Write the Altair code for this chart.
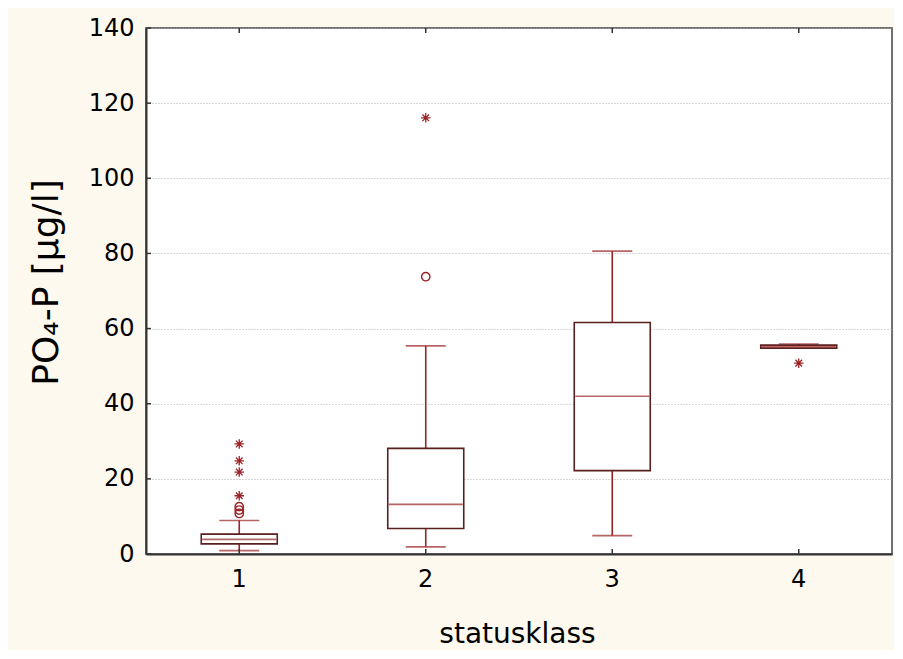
import altair as alt
import pandas as pd

# ---- data ----
categories = ["1", "2", "3", "4"]
whisk_lo = [0.9, 1.9, 4.9, 54.8]
q1 = [2.7, 6.8, 22.2, 54.8]
median = [3.9, 13.2, 42.0, 55.2]
q3 = [5.3, 28.1, 61.6, 55.6]
whisk_hi = [8.9, 55.4, 80.6, 55.9]

circle_cat = ["1", "1", "1", "2"]
circle_val = [12.6, 11.7, 10.8, 73.8]

star_cat = ["1", "1", "1", "1", "2", "4"]
star_val = [29.3, 24.8, 21.8, 15.5, 116.1, 50.8]

y_ticks = [0, 20, 40, 60, 80, 100, 120, 140]

box_df = pd.DataFrame({"cat": categories, "lo": whisk_lo, "q1": q1,
                       "med": median, "q3": q3, "hi": whisk_hi})
circ_df = pd.DataFrame({"cat": circle_cat, "v": circle_val})
star_df = pd.DataFrame({"cat": star_cat, "v": star_val})
ytick_df = pd.DataFrame({"v": y_ticks})
xtick_df = pd.DataFrame({"cat": categories})

BOX = "#5a1f1f"
WHISK = "#9a2428"
OUT = "#9a2428"
FONT = "DejaVu Sans"

xs = alt.Scale(domain=categories, paddingInner=0, paddingOuter=0)
ys = alt.Scale(domain=[0, 140], nice=False)

x_axis = alt.Axis(labelAngle=0, labelFontSize=24, labelPadding=13, ticks=False,
                  domainColor="#333333", domainWidth=2, grid=False,
                  titleFontSize=28, titleFontWeight="normal",
                  titleX=371, titleY=88, titleBaseline="alphabetic",
                  titleAlign="center")
y_axis = alt.Axis(values=y_ticks, labelFontSize=24, labelPadding=12, ticks=False,
                  domainColor="#333333", domainWidth=2,
                  grid=True, gridColor="#b0b0b0", gridDash=[1, 2], gridWidth=1,
                  titleFontSize=36, titleFontWeight="normal", titleAngle=-90,
                  titleX=-89, titleY=254, titleBaseline="alphabetic",
                  titleAlign="center")
X_TITLE = "statusklass"
Y_TITLE = "PO₄-P [µg/l]"


def X():
    return alt.X("cat:N", scale=xs, axis=x_axis, title=X_TITLE)


def Y(field):
    return alt.Y(field, scale=ys, axis=y_axis, title=Y_TITLE)


base = alt.Chart(box_df)

boxes = base.mark_bar(size=76, fill="white", stroke=BOX, strokeWidth=1.6).encode(
    x=X(), y=Y("q1:Q"), y2="q3:Q")

wl = base.mark_rule(color=WHISK, strokeWidth=1.6).encode(x=X(), y=Y("lo:Q"), y2="q1:Q")
wh = base.mark_rule(color=WHISK, strokeWidth=1.6).encode(x=X(), y=Y("q3:Q"), y2="hi:Q")
cap_lo = base.mark_tick(size=40, thickness=1.6, color=WHISK).encode(x=X(), y=Y("lo:Q"))
cap_hi = base.mark_tick(size=40, thickness=1.6, color=WHISK).encode(x=X(), y=Y("hi:Q"))
med = base.mark_tick(size=74, thickness=1.6, color=WHISK).encode(x=X(), y=Y("med:Q"))

circles = alt.Chart(circ_df).mark_point(shape="circle", size=70, filled=False,
                                        color=OUT, strokeWidth=1.4, opacity=1).encode(
    x=X(), y=Y("v:Q"))

star_path = "M-1,0L1,0M0,-1L0,1M-0.7,-0.7L0.7,0.7M-0.7,0.7L0.7,-0.7"
stars = alt.Chart(star_df).mark_point(shape=star_path, size=90, filled=False,
                                      color=OUT, strokeWidth=1.3, opacity=1).encode(
    x=X(), y=Y("v:Q"))

yt = alt.Chart(ytick_df).mark_rule(color="#333333", strokeWidth=1.5).encode(
    y=Y("v:Q"), x=alt.value(0), x2=alt.value(5))
xt_bot = alt.Chart(xtick_df).mark_rule(color="#333333", strokeWidth=1.5).encode(
    x=X(), y=alt.value(526), y2=alt.value(521))
xt_top = alt.Chart(xtick_df).mark_rule(color="#333333", strokeWidth=1.5).encode(
    x=X(), y=alt.value(0), y2=alt.value(5))

chart = alt.layer(wl, wh, cap_lo, cap_hi, boxes, med, circles, stars, yt, xt_bot, xt_top).properties(
    width=746, height=526,
    autosize="none",
    padding={"left": 138, "top": 20, "right": 2, "bottom": 96},
    background="#fef9ef",
).configure_view(stroke="#444444", strokeWidth=1.5, fill="white").configure_axis(
    labelFont=FONT, titleFont=FONT, labelColor="black", titleColor="black"
)

chart.save("out.html", embed_options={"renderer": "svg", "actions": False})
